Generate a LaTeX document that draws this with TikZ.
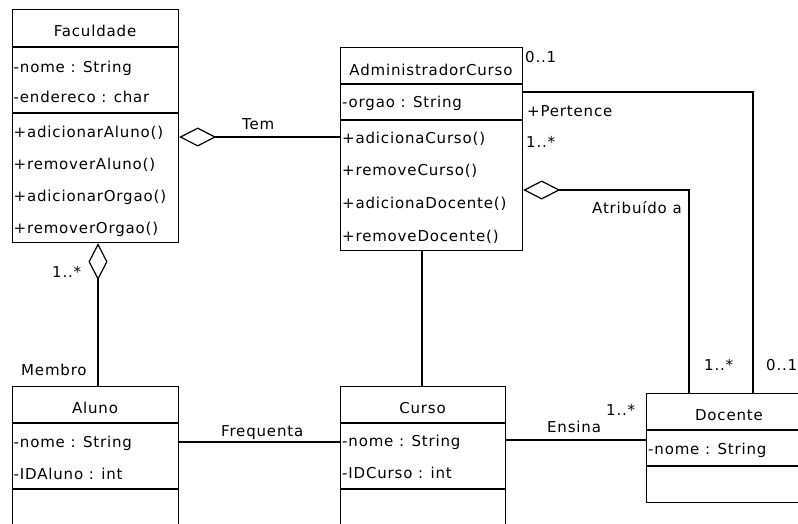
\documentclass[tikz,border=0pt]{standalone}
\usepackage{fontspec}
\setmainfont{DejaVu Sans}[LetterSpace=5.5]
\usetikzlibrary{arrows.meta}
\begin{document}
\begin{tikzpicture}[x=1pt,y=-1pt,
  cls/.style={draw, line width=1.2pt, rectangle, inner sep=0pt, anchor=north west},
  ln/.style={line width=1.2pt},
  txt/.style={inner sep=0pt, font=\fontsize{15}{17}\selectfont},
  attr/.style={txt, anchor=base west},
  ttl/.style={txt, anchor=base},
  agg/.style={ln, {Diamond[open, length=37pt, width=19pt, line width=1.2pt]}-}
]
\clip (0,0) rectangle (798,523);
\fill[white] (0,0) rectangle (798,523);

% class boxes
\node[cls, minimum width=166pt, minimum height=233pt] (fac) at (12,9) {};
\node[cls, minimum width=182pt, minimum height=203pt] (adm) at (340,47) {};
\node[cls, minimum width=166pt, minimum height=160pt] (alu) at (12,386) {};
\node[cls, minimum width=165pt, minimum height=160pt] (cur) at (340,386) {};
\node[cls, minimum width=166pt, minimum height=109pt] (doc) at (646,393) {};

% helper coordinates for dividers
\coordinate (f1) at (0,47);  \coordinate (f2) at (0,113);
\coordinate (a1) at (0,84);  \coordinate (a2) at (0,120);
\coordinate (l1) at (0,423); \coordinate (l2) at (0,489);
\coordinate (d1) at (0,430); \coordinate (d2) at (0,466);

\draw[ln] (fac.west |- f1) -- (fac.east |- f1);
\draw[ln] (fac.west |- f2) -- (fac.east |- f2);
\draw[ln] (adm.west |- a1) -- (adm.east |- a1);
\draw[ln] (adm.west |- a2) -- (adm.east |- a2);
\draw[ln] (alu.west |- l1) -- (alu.east |- l1);
\draw[ln] (alu.west |- l2) -- (alu.east |- l2);
\draw[ln] (cur.west |- l1) -- (cur.east |- l1);
\draw[ln] (cur.west |- l2) -- (cur.east |- l2);
\draw[ln] (doc.west |- d1) -- (doc.east |- d1);
\draw[ln] (doc.west |- d2) -- (doc.east |- d2);

% Faculdade
\node[ttl] (facT) at (95,36.5) {Faculdade};
\node[attr] (fa1) at (13.5,72) {-nome : String};
\node[attr] (fa2) at (13.5,102) {-endereco : char};
\node[attr] (fm1) at (13.5,137) {+adicionarAluno()};
\node[attr] (fm2) at (13.5,169) {+removerAluno()};
\node[attr] (fm3) at (13.5,201) {+adicionarOrgao()};
\node[attr] (fm4) at (13.5,233) {+removerOrgao()};

% AdministradorCurso
\node[ttl] (admT) at (431,75) {AdministradorCurso};
\node[attr] (aa1) at (342,107) {-orgao : String};
\node[attr] (am1) at (342,143) {+adicionaCurso()};
\node[attr] (am2) at (342,175.5) {+removeCurso()};
\node[attr] (am3) at (342,208) {+adicionaDocente()};
\node[attr] (am4) at (342,241) {+removeDocente()};

% Aluno
\node[ttl] (aluT) at (95,413) {Aluno};
\node[attr] (la1) at (13.5,447) {-nome : String};
\node[attr] (la2) at (13.5,479) {-IDAluno : int};

% Curso
\node[ttl] (curT) at (422.5,413) {Curso};
\node[attr] (ca1) at (342,446) {-nome : String};
\node[attr] (ca2) at (342,478) {-IDCurso : int};

% Docente
\node[ttl] (docT) at (729,420) {Docente};
\node[attr] (da1) at (648,454) {-nome : String};

% connector coordinates
\coordinate (ty) at (0,137);
\coordinate (mx) at (98,0);
\coordinate (pc) at (753,92);
\coordinate (ac) at (689,190);
\coordinate (cx) at (422,0);
\coordinate (fy) at (0,442);
\coordinate (ey) at (0,440);

% connectors
\draw[agg] (fac.east |- ty) -- (adm.west |- ty);
\draw[agg] (fac.south -| mx) -- (alu.north -| mx);
\draw[agg] (adm.east |- ac) -| (doc.north -| ac);
\draw[ln] (adm.east |- pc) -| (doc.north -| pc);
\draw[ln] (adm.south -| cx) -- (cur.north -| cx);
\draw[ln] (alu.east |- fy) -- (cur.west |- fy);
\draw[ln] (cur.east |- ey) -- (doc.west |- ey);

% labels
\node[attr] (lTem) at (242,129) {Tem};
\node[attr] (lM1) at (52,277) {1..*};
\node[attr] (lMem) at (21,375) {Membro};
\node[attr] (lFreq) at (221,436) {Frequenta};
\node[attr] (lEns) at (547,432) {Ensina};
\node[attr] (lEm) at (606,415) {1..*};
\node[attr] (lA01) at (525,62) {0..1};
\node[attr] (lPert) at (527,116.5) {+Pertence};
\node[attr] (lA1n) at (526,147) {1..*};
\node[attr] (lAtr) at (592,213) {Atribuído a};
\node[attr] (lD1n) at (704,370) {1..*};
\node[attr] (lD01) at (766,370) {0..1};
\end{tikzpicture}
\end{document}
